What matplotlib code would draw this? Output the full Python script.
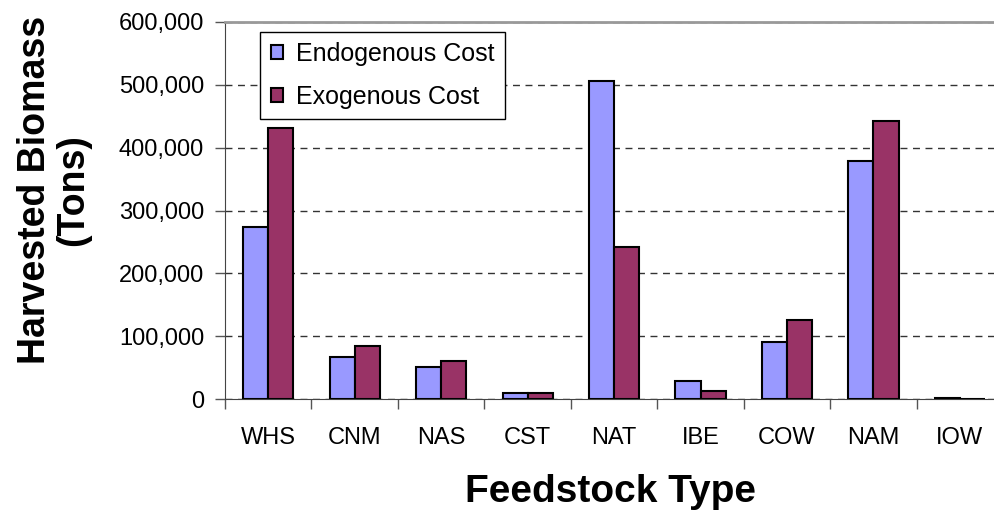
import matplotlib
matplotlib.use("Agg")
import matplotlib.pyplot as plt
import numpy as np
from matplotlib.ticker import FuncFormatter, MultipleLocator, FixedLocator

categories = ["WHS", "CNM", "NAS", "CST", "NAT", "IBE", "COW", "NAM", "IOW"]
endogenous = [273000, 67500, 51500, 9500, 505000, 29500, 91500, 378000, 2500]
exogenous = [431000, 84000, 61000, 9500, 242000, 13500, 126500, 442000, 0]
series_names = ["Endogenous Cost", "Exogenous Cost"]

plt.rcParams['font.family'] = ['Liberation Sans', 'DejaVu Sans']

fig = plt.figure(figsize=(9.95, 5.16), dpi=100)
ax_left, ax_bottom_px, ax_top_px = 225, 399.3, 21.7
ax_w = 9 * 86.46
ax = fig.add_axes([ax_left/995, 1-ax_bottom_px/516, ax_w/995, (ax_bottom_px-ax_top_px)/516])

x = np.arange(len(categories)) + 0.5
w = 0.29
ax.bar(x - w/2, endogenous, w, color="#9999FF", edgecolor="black", linewidth=1.5, label=series_names[0], zorder=3)
ax.bar(x + w/2, exogenous, w, color="#993366", edgecolor="black", linewidth=1.5, label=series_names[1], zorder=3)

ax.set_xlim(0, len(categories))
ax.set_ylim(0, 600000)
ax.yaxis.set_major_locator(MultipleLocator(100000))
ax.yaxis.set_major_formatter(FuncFormatter(lambda v, p: f"{int(v):,}"))
ax.xaxis.set_major_locator(FixedLocator(np.arange(len(categories) + 1)))
ax.xaxis.set_minor_locator(FixedLocator(x))
ax.set_xticklabels([])
ax.set_xticklabels(categories, minor=True)
ax.tick_params(axis='x', which='major', length=7, width=1, color="#555555", direction='out')
ax.tick_params(axis='x', which='minor', length=0, labelsize=17, pad=20)
ax.tick_params(axis='y', length=7, width=1, color="#555555", direction='out', labelsize=17, pad=8)

ax.yaxis.grid(True, linestyle=(0, (5, 4)), color="#333333", linewidth=1, zorder=0)
ax.spines["right"].set_visible(False)
ax.spines["top"].set_color("#999999")
ax.spines["top"].set_linewidth(2)
ax.spines["left"].set_color("#444444")
ax.spines["bottom"].set_color("#444444")

ax.set_ylabel("Harvested Biomass\n(Tons)", fontsize=27, fontweight="bold", linespacing=1.05)
ax.yaxis.label.set_va("center")
ax.yaxis.set_label_coords((54-ax_left)/ax_w, (ax_bottom_px-190)/(ax_bottom_px-ax_top_px))
ax.set_xlabel("Feedstock Type", fontsize=28, fontweight="bold")
ax.xaxis.label.set_va("center")
ax.xaxis.set_label_coords((611-ax_left)/ax_w, (ax_bottom_px-492)/(ax_bottom_px-ax_top_px))

leg = ax.legend(loc="upper left", bbox_to_anchor=(260/995, 1-31.7/516), bbox_transform=fig.transFigure,
                fontsize=18, frameon=True, fancybox=False, edgecolor="black", framealpha=1,
                handlelength=0.5, handleheight=0.5, handletextpad=0.5, borderpad=0.42,
                labelspacing=0.75, borderaxespad=0)
leg.get_frame().set_linewidth(1)

fig.savefig("out.png", dpi=100)
